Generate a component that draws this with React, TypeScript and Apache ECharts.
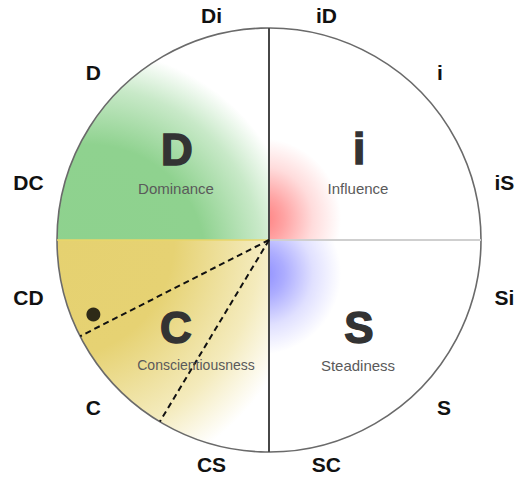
import React, { useEffect, useRef } from "react";
import * as echarts from "echarts";

// ---- data ----
const quadrantLetters = ["i", "S", "C", "D"];
const quadrantNames = ["Influence", "Steadiness", "Conscientiousness", "Dominance"];
const quadrantShares = [1, 1, 1, 1];
const styleLabels = ["iD", "i", "iS", "Si", "S", "SC", "CS", "C", "CD", "DC", "D", "Di"];
const dashedAngles = [243, 211];
const pointRadius = [0.9];
const pointAngle = [247];

// ---- layout / style ----
const CX = 269;
const CY = 240;
const R = 212;
const letterOffsets = [
  [90, -92],
  [90, 87],
  [-93, 87],
  [-92, -91],
];
const nameOffsets = [
  [89, -52],
  [89, 125],
  [-73, 125],
  [-93, -52],
];
const nameSizes = [15, 15, 14, 15];

export default function App() {
  const ref = useRef<HTMLDivElement>(null);
  useEffect(() => {
    document.body.style.margin = "0";
    if (!ref.current) return;
    const chart = echarts.init(ref.current, undefined, { renderer: "svg" });
    const RG = echarts.graphic.RadialGradient;
    const fills = [
      new RG(-0.04, 0.9, 0.38, [
        { offset: 0, color: "#ff7c7c" },
        { offset: 0.3, color: "#ffa4a4" },
        { offset: 0.65, color: "#ffdcdc" },
        { offset: 1, color: "#ffffff" },
      ]),
      new RG(-0.04, 0.16, 0.38, [
        { offset: 0, color: "#8c8cff" },
        { offset: 0.3, color: "#adadff" },
        { offset: 0.65, color: "#e0e0ff" },
        { offset: 1, color: "#ffffff" },
      ]),
      new RG(0.0, 0.0, 1.2, [
        { offset: 0, color: "#e5d170" },
        { offset: 0.46, color: "#e6d273" },
        { offset: 0.8, color: "#f4ebbd" },
        { offset: 1, color: "#ffffff" },
      ]),
      new RG(0.15, 1.1, 1.0, [
        { offset: 0, color: "#8ed28e" },
        { offset: 0.55, color: "#8fd28f" },
        { offset: 0.82, color: "#c8e9c8" },
        { offset: 1, color: "#ffffff" },
      ]),
    ];

    const graphics: any[] = [];
    quadrantLetters.forEach((l, i) => {
      graphics.push({
        type: "text",
        x: CX + letterOffsets[i][0],
        y: CY + letterOffsets[i][1],
        z: 20,
        style: {
          text: l,
          fill: "#333333",
          stroke: "#333333",
          lineWidth: 1.5,
          font: "bold 44px 'Liberation Sans', Arial, sans-serif",
          textAlign: "center",
          textVerticalAlign: "middle",
          align: "center",
          verticalAlign: "middle",
        },
      });
      graphics.push({
        type: "text",
        x: CX + nameOffsets[i][0],
        y: CY + nameOffsets[i][1],
        z: 20,
        style: {
          text: quadrantNames[i],
          fill: "#5a5a5a",
          font: `${nameSizes[i]}px 'Liberation Sans', Arial, sans-serif`,
          textAlign: "center",
          textVerticalAlign: "middle",
          align: "center",
          verticalAlign: "middle",
        },
      });
    });

    chart.setOption({
      animation: false,
      polar: [
        { center: [CX, CY], radius: R },
        { center: [CX, CY], radius: R },
      ],
      angleAxis: [
        {
          polarIndex: 0,
          type: "category",
          data: styleLabels,
          startAngle: 90,
          clockwise: true,
          boundaryGap: true,
          z: 5,
          axisLine: { show: true, lineStyle: { color: "#6a6a6a", width: 1.6 } },
          axisTick: { show: false },
          splitLine: { show: false },
          axisLabel: {
            margin: 10,
            padding: [0, 11],
            color: "#111111",
            fontSize: 21,
            fontWeight: "bold",
            fontFamily: "'Liberation Sans', Arial, sans-serif",
          },
        },
        {
          polarIndex: 1,
          type: "value",
          min: 0,
          max: 360,
          startAngle: 90,
          clockwise: true,
          show: false,
        },
      ],
      radiusAxis: [
        { polarIndex: 0, min: 0, max: 1, show: false },
        { polarIndex: 1, min: 0, max: 1, show: false },
      ],
      series: [
        {
          type: "pie",
          center: [CX, CY],
          radius: [0, R],
          startAngle: 90,
          clockwise: true,
          silent: true,
          z: 1,
          label: { show: false },
          labelLine: { show: false },
          emphasis: { disabled: true },
          data: quadrantShares.map((v, i) => ({
            value: v,
            name: quadrantNames[i],
            itemStyle: { color: fills[i], borderWidth: 0 },
          })),
        },
        {
          type: "line",
          coordinateSystem: "polar",
          polarIndex: 1,
          z: 6,
          silent: true,
          symbol: "none",
          lineStyle: { color: "#e9d66a", width: 1.5 },
          data: [
            [0, 270],
            [1, 270],
          ],
        },
        {
          type: "line",
          coordinateSystem: "polar",
          polarIndex: 1,
          z: 6,
          silent: true,
          symbol: "none",
          lineStyle: { color: "#cfcfcf", width: 2 },
          data: [
            [0, 90],
            [1, 90],
          ],
        },
        {
          type: "line",
          coordinateSystem: "polar",
          polarIndex: 1,
          z: 7,
          silent: true,
          symbol: "none",
          lineStyle: { color: "#474747", width: 2 },
          data: [
            [1, 0],
            [0, 0],
            [1, 180],
          ],
        },
        ...dashedAngles.map((a) => ({
          type: "line",
          coordinateSystem: "polar",
          polarIndex: 1,
          z: 8,
          silent: true,
          symbol: "none",
          lineStyle: { color: "#111111", width: 2, type: [6, 4] },
          data: [
            [0, a],
            [1, a],
          ],
        })),
        {
          type: "scatter",
          coordinateSystem: "polar",
          polarIndex: 1,
          z: 9,
          silent: true,
          symbol: "circle",
          symbolSize: 14,
          itemStyle: { color: "#000000" },
          data: pointRadius.map((r, i) => [r, pointAngle[i]]),
        },
      ],
      graphic: graphics,
    });
    return () => chart.dispose();
  }, []);
  return <div ref={ref} style={{ width: 524, height: 483 }} />;
}
